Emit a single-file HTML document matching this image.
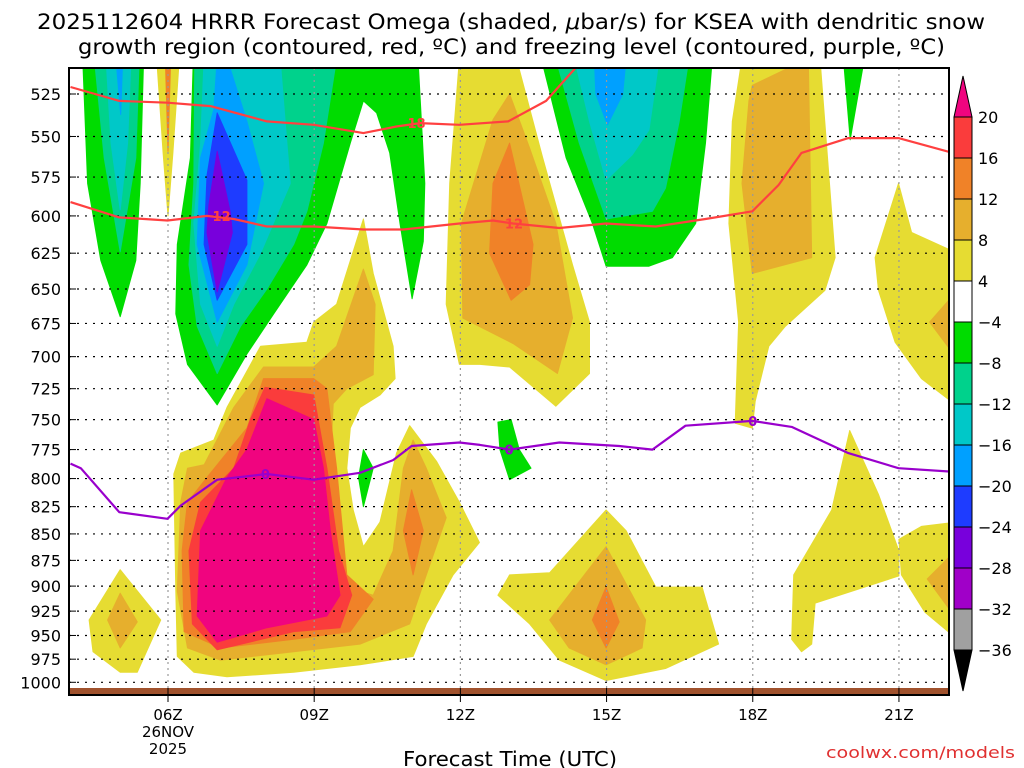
<!DOCTYPE html>
<html><head><meta charset="utf-8">
<style>
html,body{margin:0;padding:0;background:#fff;}
svg{display:block;font-family:"DejaVu Sans","Liberation Sans",sans-serif;}
</style></head>
<body>
<svg id="chart" width="1024" height="768" viewBox="0 0 1024 768" xmlns="http://www.w3.org/2000/svg">
<text x="37" y="29" font-size="21" textLength="948" lengthAdjust="spacingAndGlyphs">2025112604 HRRR Forecast Omega (shaded, <tspan font-style="italic">μ</tspan>bar/s) for KSEA with dendritic snow</text>
<text x="78" y="54" font-size="21" textLength="867" lengthAdjust="spacingAndGlyphs">growth region (contoured, red, ºC) and freezing level (contoured, purple, ºC)</text>
<defs><clipPath id="plotclip"><rect x="69" y="68" width="880" height="627"/></clipPath></defs>
<g id="fills" clip-path="url(#plotclip)"></g>
<g id="grid" clip-path="url(#plotclip)"></g>
<g id="lines" clip-path="url(#plotclip)"></g>
<rect x="69" y="688" width="880" height="7" fill="#a0522d"/>
<rect x="69" y="68" width="880" height="627" fill="none" stroke="#000" stroke-width="2"/>
<g id="axes"></g>
<g id="cbar"></g>
<text x="403" y="766" font-size="20" textLength="214" lengthAdjust="spacingAndGlyphs">Forecast Time (UTC)</text>
<text x="826" y="758" font-size="16" fill="#e03030" textLength="189" lengthAdjust="spacingAndGlyphs">coolwx.com/models</text>
</svg>
<script>
// ---- axis data ----
const pressureTicks = [525,550,575,600,625,650,675,700,725,750,775,800,825,850,875,900,925,950,975,1000];
const hourTicks = [6,9,12,15,18,21];
const hourTickLabels = ["06Z","09Z","12Z","15Z","18Z","21Z"];
const cbarLevels = [20,16,12,8,4,-4,-8,-12,-16,-20,-24,-28,-32,-36];
const cbarColors = ["#fa3c3c","#f08228","#e6af2d","#e6dc32","#ffffff","#00dc00","#00d28c","#00c8c8","#00a0ff","#1e3cff","#7800dc","#a000c8","#a0a0a0"];
// ---- omega contour regions [hour, hPa] ----
const yelA = [[7.9,692],[8.85,689],[8.99,674],[9.46,661],[10.01,602],[10.21,639],[10.62,692],[10.66,717],[10.35,730],[9.94,740],[9.74,757],[9.67,791],[9.8,828],[10.01,862],[10.35,839],[10.69,778],[10.96,755],[11.51,785],[11.98,821],[12.39,858],[11.85,889],[11.3,938],[11.03,972],[9.94,981],[8.58,989],[7.21,994],[6.53,989],[6.19,972],[6.16,905],[6.12,796],[6.26,778],[6.94,767],[7.21,740]];
const yelB = [[4.38,934],[5.02,884],[5.85,934],[5.37,989],[5.02,989],[4.46,967]];
const yelC = [[5.78,510],[6.22,510],[6.1,560],[6.0,600],[5.9,560]];
const yelD = [[11.98,505],[11.78,579],[11.71,661],[11.98,706],[12.4,706],[13.01,708],[13.96,739],[14.65,713],[14.65,674],[14.3,633],[13.69,563],[13.15,505]];
const yelE = [[17.78,505],[19.38,505],[19.69,628],[19.48,651],[18.67,677],[18.33,692],[18.05,735],[17.99,757],[17.64,753],[17.71,674],[17.51,605],[17.58,541]];
const yelF = [[20.51,628],[20.99,579],[21.26,611],[22.2,625],[22.2,739],[21.46,717],[20.92,689],[20.58,651]];
const yelG = [[12.77,909],[13.01,889],[13.83,887],[14.99,828],[15.4,847],[16.01,901],[16.96,901],[17.3,959],[16.21,985],[14.99,998],[14.03,976],[13.42,938]];
const yelH = [[19.99,759],[20.58,814],[21.0,866],[21.0,890],[19.28,917],[19.21,959],[19.0,967],[18.8,954],[18.84,889],[19.62,828]];
const yelI = [[21.0,855],[21.46,843],[22.2,839],[22.2,954],[21.53,926],[21.05,889]];
const goldA = [[7.96,708],[8.99,708],[9.46,692],[10.01,636],[10.25,661],[10.21,714],[9.67,725],[9.39,737],[9.33,791],[9.46,866],[9.67,901],[10.21,909],[10.62,866],[10.83,791],[11.03,767],[11.3,791],[11.71,835],[11.3,889],[10.96,938],[9.94,959],[8.58,967],[7.08,976],[6.4,963],[6.19,905],[6.26,821],[6.4,791],[6.74,788],[7.35,740]];
const goldB = [[4.76,934],[5.02,907],[5.37,936],[5.02,963]];
const goldD = [[12.67,540],[13.01,525],[13.42,557],[13.96,605],[14.3,671],[13.99,713],[13.08,690],[12.05,671],[12.02,605]];
const goldE = [[17.99,520],[19.14,505],[19.21,628],[17.99,639],[17.78,579],[17.92,529]];
const goldF = [[22.2,651],[21.63,674],[22.2,702]];
const goldG = [[13.83,934],[14.99,862],[15.8,934],[15.73,963],[14.99,981],[14.23,963]];
const goldI = [[22.2,864],[21.58,893],[22.2,934]];
const orgA = [[7.96,717],[8.99,717],[9.26,725],[9.46,791],[9.67,889],[10.21,913],[9.74,946],[8.58,954],[7.08,963],[6.33,946],[6.29,866],[6.4,821],[6.8,799],[7.62,757]];
const orgA2 = [[11.0,810],[11.24,847],[11.03,889],[10.83,847]];
const orgC = [[5.95,510],[6.05,510],[6.0,559]];
const orgD = [[13.01,554],[13.49,619],[13.42,647],[13.04,658],[12.6,625],[12.67,579]];
const orgG = [[14.71,934],[14.99,901],[15.26,936],[14.99,963]];
const redA = [[7.99,724],[8.99,730],[9.26,791],[9.5,866],[9.77,909],[9.53,942],[8.58,946],[7.01,965],[6.5,938],[6.43,866],[6.67,821],[7.35,791],[7.69,750]];
const pinkA = [[8.03,733],[8.99,750],[9.19,791],[9.33,847],[9.53,909],[9.26,930],[8.03,942],[7.01,957],[6.6,930],[6.67,847],[7.21,799],[7.62,775]];
const grnA = [[4.25,505],[5.5,505],[5.43,579],[5.34,630],[5.02,670],[4.62,630],[4.35,579]];
const grnB = [[6.52,505],[11.13,505],[11.27,579],[11.24,617],[11.01,657],[10.76,605],[10.55,560],[10.28,536],[10.01,529],[9.74,554],[9.26,605],[8.85,633],[8.17,668],[7.62,698],[7.01,738],[6.4,706],[6.16,668],[6.19,619],[6.46,563]];
const grnC = [[9.91,799],[10.01,775],[10.21,791],[10.01,825]];
const grnD = [[12.77,752],[13.04,750],[13.21,775],[13.45,791],[13.01,801],[12.81,775]];
const grnE = [[13.66,505],[17.17,505],[17.03,554],[16.83,605],[16.35,628],[15.87,634],[14.99,634],[14.71,605],[14.17,563]];
const grnF = [[19.86,505],[20.29,505],[20.0,552]];
const tealA = [[4.49,505],[5.41,505],[5.34,563],[5.02,624],[4.69,563]];
const tealB = [[6.55,505],[9.46,505],[9.19,554],[8.85,597],[8.58,619],[8.03,650],[7.49,677],[7.01,713],[6.6,677],[6.43,633],[6.53,579]];
const tealE = [[13.96,505],[16.69,505],[16.49,541],[16.21,582],[15.94,597],[14.99,602],[14.44,554]];
const cyanA = [[4.73,505],[5.24,505],[5.17,554],[5.02,596],[4.83,554]];
const cyanB = [[6.74,505],[8.3,505],[8.44,554],[8.51,579],[7.9,625],[7.35,661],[7.01,692],[6.67,661],[6.53,605],[6.67,554]];
const cyanE = [[14.34,505],[16.08,505],[15.87,546],[15.53,561],[14.99,577],[14.65,541]];
const lblA = [[4.93,505],[5.07,505],[5.03,537]];
const lblB = [[7.01,505],[7.21,505],[7.62,541],[7.96,579],[7.62,633],[7.01,674],[6.6,619],[6.67,563],[6.94,534]];
const lblE = [[14.75,505],[15.4,505],[15.33,525],[15.02,543],[14.78,525]];
const bluB = [[7.01,536],[7.62,577],[7.62,619],[7.01,658],[6.74,619],[6.8,574]];
const purB = [[7.01,559],[7.28,598],[7.32,611],[7.01,652],[6.8,611],[6.84,593]];
// ---- contour lines [hour, hPa] ----
const dgzWarm = [[4.0,521],[5.0,529],[5.99,530],[6.87,532],[8.03,541],[8.99,543],[10.01,548],[10.69,544],[11.17,542],[11.98,543],[12.98,541],[13.76,529],[14.37,510],[14.5,506]];
const dgzCold = [[4.0,591],[5.0,601],[5.99,603],[6.8,600],[7.35,602],[8.03,607],[8.99,607],[10.01,609],[10.83,609],[11.98,605],[12.67,603],[13.08,605],[14.03,608],[14.99,605],[16.01,607],[17.03,602],[17.99,597],[18.53,580],[19.0,560],[19.96,551],[20.99,551],[22.1,560]];
const freezeLine = [[4.0,787],[4.21,791],[5.0,830],[5.99,836],[6.26,824],[7.01,801],[8.03,796],[8.99,801],[9.94,795],[10.62,784],[11.0,772],[11.98,769],[12.4,771],[13.01,775],[14.03,769],[15.26,772],[15.94,775],[16.62,755],[17.99,751],[18.8,756],[19.96,778],[20.99,791],[22.1,794]];
const lineLabels = [["18",11.1,542,"#ff4040"],["12",7.1,600,"#ff4040"],["12",13.1,605,"#ff4040"],["0",8.0,796,"#9900cc"],["0",13.0,775,"#9900cc"],["0",18.0,751,"#9900cc"]];

const NS = "http://www.w3.org/2000/svg";
function xS(h){ return 168 + (h-6)*48.73; }
function yS(p){ return 94 + 913*(Math.log(p)-Math.log(525)); }
function mk(tag, attrs, parent){ const e=document.createElementNS(NS,tag); for(const k in attrs) e.setAttribute(k,attrs[k]); parent.appendChild(e); return e; }
function pts(arr){ return arr.map(d=>xS(d[0]).toFixed(1)+","+yS(d[1]).toFixed(1)).join(" "); }

const fills = document.getElementById("fills");
const layers = [
 [yelA,"#e6dc32"],[yelB,"#e6dc32"],[yelC,"#e6dc32"],[yelD,"#e6dc32"],[yelE,"#e6dc32"],[yelF,"#e6dc32"],[yelG,"#e6dc32"],[yelH,"#e6dc32"],[yelI,"#e6dc32"],
 [goldA,"#e6af2d"],[goldB,"#e6af2d"],[goldD,"#e6af2d"],[goldE,"#e6af2d"],[goldF,"#e6af2d"],[goldG,"#e6af2d"],[goldI,"#e6af2d"],
 [orgA,"#f08228"],[orgA2,"#f08228"],[orgC,"#f08228"],[orgD,"#f08228"],[orgG,"#f08228"],
 [redA,"#fa3c3c"],[pinkA,"#f0047f"],
 [grnA,"#00dc00"],[grnB,"#00dc00"],[grnC,"#00dc00"],[grnD,"#00dc00"],[grnE,"#00dc00"],[grnF,"#00dc00"],
 [tealA,"#00d28c"],[tealB,"#00d28c"],[tealE,"#00d28c"],
 [cyanA,"#00c8c8"],[cyanB,"#00c8c8"],[cyanE,"#00c8c8"],
 [lblA,"#00a0ff"],[lblB,"#00a0ff"],[lblE,"#00a0ff"],
 [bluB,"#1e3cff"],[purB,"#7800dc"]
];
layers.forEach(l=>{
  const p = mk("polygon",{points:pts(l[0]),fill:l[1],"stroke":l[1],"stroke-width":"1","stroke-linejoin":"round"},fills);
  
  
});

// grid
const grid = document.getElementById("grid");
pressureTicks.forEach(p=>{
  const l = mk("line",{x1:69,x2:949,y1:yS(p),y2:yS(p),stroke:"#000","stroke-width":"1.2","stroke-dasharray":"2,6"},grid);
  
  
});
hourTicks.forEach(h=>{
  const l = mk("line",{x1:xS(h),x2:xS(h),y1:68,y2:695,stroke:"#999","stroke-width":"1.2","stroke-dasharray":"2,4"},grid);
  
  
});

// lines
const lines = document.getElementById("lines");
[[dgzWarm,"#ff4040","dgz-warm-line"],[dgzCold,"#ff4040","dgz-cold-line"],[freezeLine,"#9900cc","freezing-level-line"]].forEach(s=>{
  const pl = mk("polyline",{points:pts(s[0]),fill:"none",stroke:s[1],"stroke-width":"2.2","stroke-linejoin":"round"},lines);
  
  
});
lineLabels.forEach(l=>{
  const bg = mk("rect",{x:xS(l[1])-10,y:yS(l[2])-7,width:20,height:14,fill:"#fff","fill-opacity":"0"},lines);
  
  
  const t = mk("text",{x:xS(l[1]),y:yS(l[2])+5,"text-anchor":"middle","font-size":"13","font-weight":"bold",fill:l[3]},lines);
  t.textContent = l[0];
  
  
});

// axes
const axes = document.getElementById("axes");
pressureTicks.forEach(p=>{
  const t = mk("text",{x:61,y:yS(p)+6,"text-anchor":"end","font-size":"16"},axes);
  t.textContent = p;
  
  
  const tk = mk("line",{x1:69,x2:76,y1:yS(p),y2:yS(p),stroke:"#000","stroke-width":"1"},axes);
  
  
});
hourTicks.forEach((h,i)=>{
  const t = mk("text",{x:xS(h),y:720,"text-anchor":"middle","font-size":"15"},axes);
  t.textContent = hourTickLabels[i];
  
  
  const tk = mk("line",{x1:xS(h),x2:xS(h),y1:688,y2:702,stroke:"#000","stroke-width":"1"},axes);
  
  
});
const d1 = mk("text",{x:xS(6),y:737,"text-anchor":"middle","font-size":"15"},axes);
d1.textContent = "26NOV";


const d2 = mk("text",{x:xS(6),y:754,"text-anchor":"middle","font-size":"15"},axes);
d2.textContent = "2025";



// colorbar
const cb = document.getElementById("cbar");
const cbTop = 117, cbStep = 41, cbX = 954, cbW = 18;
const up = mk("polygon",{points:`${cbX},${cbTop} ${cbX+cbW},${cbTop} ${cbX+cbW/2},${cbTop-41}`,fill:"#f0047f",stroke:"#000","stroke-width":"1"},cb);


cbarColors.forEach((c,i)=>{
  const r = mk("rect",{x:cbX,y:cbTop+i*cbStep,width:cbW,height:cbStep,fill:c,stroke:"#000","stroke-width":"1"},cb);
  
  
});
const cbBot = cbTop + cbarColors.length*cbStep;
const dn = mk("polygon",{points:`${cbX},${cbBot} ${cbX+cbW},${cbBot} ${cbX+cbW/2},${cbBot+41}`,fill:"#000",stroke:"#000","stroke-width":"1"},cb);


cbarLevels.forEach((v,i)=>{
  const t = mk("text",{x:978,y:cbTop+i*cbStep+6,"font-size":"16"},cb);
  t.textContent = v<0 ? "\u2212"+Math.abs(v) : String(v);
  
  
});
</script>
</body></html>
